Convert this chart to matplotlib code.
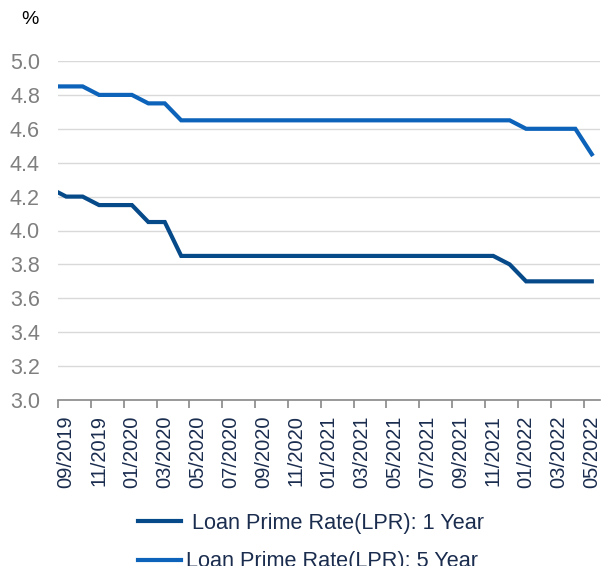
import matplotlib
matplotlib.use("Agg")
import matplotlib.pyplot as plt
import numpy as np

plt.rcParams['font.family'] = ['Liberation Sans', 'DejaVu Sans']

months = ["08/2019", "09/2019", "10/2019", "11/2019", "12/2019", "01/2020", "02/2020", "03/2020",
          "04/2020", "05/2020", "06/2020", "07/2020", "08/2020", "09/2020", "10/2020", "11/2020",
          "12/2020", "01/2021", "02/2021", "03/2021", "04/2021", "05/2021", "06/2021", "07/2021",
          "08/2021", "09/2021", "10/2021", "11/2021", "12/2021", "01/2022", "02/2022", "03/2022",
          "04/2022", "05/2022"]
lpr_1y = [4.25, 4.20, 4.20, 4.15, 4.15, 4.15, 4.05, 4.05,
          3.85, 3.85, 3.85, 3.85, 3.85, 3.85, 3.85, 3.85,
          3.85, 3.85, 3.85, 3.85, 3.85, 3.85, 3.85, 3.85,
          3.85, 3.85, 3.85, 3.85, 3.80, 3.70, 3.70, 3.70,
          3.70, 3.70]
lpr_5y = [4.85, 4.85, 4.85, 4.80, 4.80, 4.80, 4.75, 4.75,
          4.65, 4.65, 4.65, 4.65, 4.65, 4.65, 4.65, 4.65,
          4.65, 4.65, 4.65, 4.65, 4.65, 4.65, 4.65, 4.65,
          4.65, 4.65, 4.65, 4.65, 4.65, 4.60, 4.60, 4.60,
          4.60, 4.45]
yticks = [3.0, 3.2, 3.4, 3.6, 3.8, 4.0, 4.2, 4.4, 4.6, 4.8, 5.0]

# category centres; axis starts at the beginning of 09/2019
x = np.arange(len(months)) - 1 + 0.5

fig = plt.figure(figsize=(6.01, 5.66), dpi=100)
ax = fig.add_axes([58/601, 1-400/566, (600-58)/601, (400-61)/566])

c1 = '#064A89'
c5 = '#0C63B9'
l1, = ax.plot(x, lpr_1y, color=c1, lw=3.0, solid_joinstyle='miter', zorder=3,
              label=' Loan Prime Rate(LPR): 1 Year')
l5, = ax.plot(x, lpr_5y, color=c5, lw=3.0, solid_joinstyle='miter', zorder=3,
              label='Loan Prime Rate(LPR): 5 Year')

ax.set_xlim(0, len(months) - 1)
ax.set_ylim(3.0, 5.0)
ax.set_yticks(yticks)
ax.set_yticklabels([f"{v:.1f}" for v in yticks])
ax.yaxis.grid(True, color='#D9D9D9', lw=1.0)
ax.set_axisbelow(True)

lab_idx = list(range(1, len(months), 2))
ax.set_xticks([x[i] for i in lab_idx])
ax.set_xticklabels([months[i] for i in lab_idx], rotation=90, va='top', ha='center')
ax.set_xticks([x[i] - 0.5 for i in lab_idx], minor=True)
ax.tick_params(axis='x', which='major', length=0, pad=11, labelsize=14.5, labelcolor='#1B2D4F')
ax.tick_params(axis='x', which='minor', length=6, width=1.2, color='#888888', direction='out')
ax.tick_params(axis='y', length=0, pad=13, labelsize=15.5, labelcolor='#7F7F7F')

for s in ['top', 'right', 'left']:
    ax.spines[s].set_visible(False)
ax.spines['bottom'].set_color('#888888')
ax.spines['bottom'].set_linewidth(1.2)

fig.text(30/601, 1-20/566, '%', fontsize=14, color='black', ha='center', va='center')

leg = fig.legend(handles=[l1, l5], loc='upper left', bbox_to_anchor=(138/601, 1-513/566),
                 frameon=False, fontsize=15.6, handlelength=2.0, handletextpad=0.2,
                 labelspacing=0.8, borderpad=0, borderaxespad=0)
for t in leg.get_texts():
    t.set_color('#1B2D4F')

fig.savefig('out.png', dpi=100)
